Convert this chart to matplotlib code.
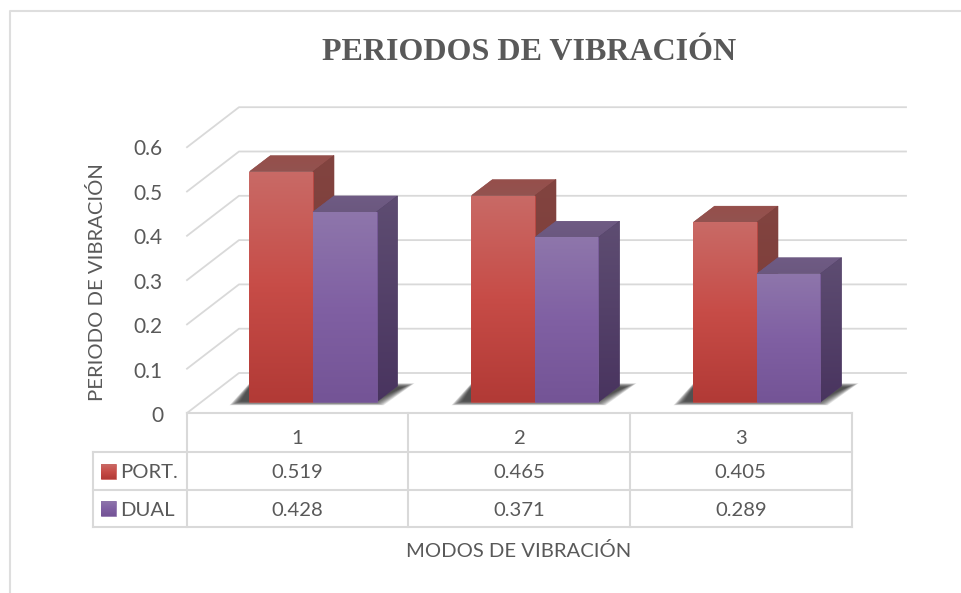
import matplotlib
matplotlib.use("Agg")
import matplotlib.pyplot as plt
import numpy as np
from matplotlib.colors import LinearSegmentedColormap
from matplotlib.patches import Polygon

categories = ["1", "2", "3"]
port = [0.519, 0.465, 0.405]
dual = [0.428, 0.371, 0.289]
yticks = [0, 0.1, 0.2, 0.3, 0.4, 0.5, 0.6]
ytick_labels = ["0", "0.1", "0.2", "0.3", "0.4", "0.5", "0.6"]
series_names = ["PORT.", "DUAL"]

W, H = 961, 593
CAT_PX = 222.0
VAL_PX = 444.0
GREY = "#595959"
LINE = "#d9d9d9"
FS = 14.6

red_front = LinearSegmentedColormap.from_list("rf", ["#c96a66", "#c74c47", "#b23a36"])
red_side = LinearSegmentedColormap.from_list("rs", ["#824440", "#7b3835"])
red_top = LinearSegmentedColormap.from_list("rt", ["#964f4b", "#925350"])
pur_front = LinearSegmentedColormap.from_list("pf", ["#8e76ab", "#8060a3", "#745496"])
pur_side = LinearSegmentedColormap.from_list("ps", ["#5e4d72", "#49345f"])
pur_top = LinearSegmentedColormap.from_list("pt", ["#6f5b84", "#6b587f"])


# pixel positions of the picture to data units
def px(x):
    return 1 + (x - 313) / CAT_PX


def py(y):
    return (402 - y) / VAL_PX


fig = plt.figure(figsize=(W / 100, H / 100), dpi=100)
ax = fig.add_axes([0, 0, 1, 1])
ax.axis("off")

plt.rcParams["font.family"] = ["Lato", "DejaVu Sans"]

# outer frame of the chart, open to the right and below
ax.plot([px(10), px(10), px(961)], [py(593), py(11), py(11)], color="#dedede", lw=1.5)

# back wall and floor grid
for v in yticks:
    ax.plot([px(187), px(239), px(906)],
            [py(413) + v * 44.3 / 44.4, py(373) + v * 44.3 / 44.4, py(373) + v * 44.3 / 44.4],
            color=LINE, lw=1.3, zorder=1)


def gradient_poly(pts, cmap, zorder):
    pts = np.array(pts)
    # solid face under the image so the clipped edge leaves no pale seam
    patch = Polygon(pts, closed=True, facecolor=cmap(0.5), edgecolor=cmap(0.5), lw=0.4, zorder=zorder)
    ax.add_patch(patch)
    grad = np.linspace(0, 1, 128).reshape(-1, 1)
    im = ax.imshow(grad, cmap=cmap, aspect="auto", zorder=zorder, interpolation="bilinear",
                   extent=[pts[:, 0].min(), pts[:, 0].max(), pts[:, 1].min(), pts[:, 1].max()])
    im.set_clip_path(patch)


def box(x0, x1, v, front, side, top, z):
    dx = 21 / CAT_PX
    dy = 16 / VAL_PX
    gradient_poly([(x0, v), (x0 + dx, v + dy), (x1 + dx, v + dy), (x1, v)], top, z)
    gradient_poly([(x1, 0), (x1 + dx, dy), (x1 + dx, v + dy), (x1, v)], side, z + 0.1)
    gradient_poly([(x0, 0), (x1, 0), (x1, v), (x0, v)], front, z + 0.2)


bar_w = 63.5 / CAT_PX
for i in range(len(categories)):
    c = i + 1
    # soft shadow on the floor behind the pair of bars
    sx0 = c - bar_w
    sx1 = c + bar_w
    for grow in np.linspace(5, -6, 12):
        gx = grow / CAT_PX
        gy = grow * 0.35 / VAL_PX
        shadow = Polygon([(sx0 - 15 / CAT_PX - gx, -1.5 / VAL_PX - gy),
                          (sx1 + 2 / CAT_PX + gx, -1.5 / VAL_PX - gy),
                          (sx1 + 33 / CAT_PX + gx, 17 / VAL_PX + gy),
                          (sx0, 17 / VAL_PX + gy)],
                         closed=True, facecolor="#262626", edgecolor="none", alpha=0.12, zorder=2)
        ax.add_patch(shadow)
    box(c - bar_w, c, port[i], red_front, red_side, red_top, 3 + i)
    box(c, c + bar_w, dual[i], pur_front, pur_side, pur_top, 3.5 + i)

# y tick labels
for v, lab in zip(yticks, ytick_labels):
    ax.text(px(163), py(416.5) + v * 44.6 / 44.4, lab, ha="right", va="center", fontsize=15, color=GREY)

# data table below the plot
col_x = [187, 408.5, 630, 851.5]
row_y = [413, 451.5, 489.5, 527]
ax.plot([px(col_x[0]), px(col_x[-1])], [py(row_y[0]), py(row_y[0])], color=LINE, lw=1.5, zorder=6)
for y in row_y[1:]:
    ax.plot([px(93), px(col_x[-1])], [py(y), py(y)], color=LINE, lw=1.5, zorder=6)
for x in col_x:
    ax.plot([px(x), px(x)], [py(row_y[0]), py(row_y[-1])], color=LINE, lw=1.5, zorder=6)
ax.plot([px(93), px(93)], [py(row_y[1]), py(row_y[-1])], color=LINE, lw=1.5, zorder=6)

for i, cat in enumerate(categories):
    cx = px((col_x[i] + col_x[i + 1]) / 2)
    ax.text(cx, py(439), cat, ha="center", va="center", fontsize=FS, color=GREY)
    ax.text(cx, py(473), f"{port[i]:.3f}", ha="center", va="center", fontsize=FS, color=GREY)
    ax.text(cx, py(511), f"{dual[i]:.3f}", ha="center", va="center", fontsize=FS, color=GREY)

for name, y, cmap in zip(series_names, [471, 508.5], [red_front, pur_front]):
    gradient_poly([(px(101), py(y + 7.5)), (px(116), py(y + 7.5)), (px(116), py(y - 7.5)), (px(101), py(y - 7.5))],
                  cmap, 7)
    ax.text(px(120), py(y + 2), name, ha="left", va="center", fontsize=FS, color=GREY)

ax.text(px(97), py(282), "PERIODO DE VIBRACIÓN", rotation=90, ha="center", va="center", fontsize=FS, color=GREY)
ax.text(px(519), py(551), "MODOS DE VIBRACIÓN", ha="center", va="center", fontsize=FS, color=GREY)
ax.text(px(529.5), py(52), "PERIODOS DE VIBRACIÓN", ha="center", va="center", fontsize=23,
        fontweight="bold", family="Liberation Serif", color=GREY)

ax.set_xlim(px(0), px(W))
ax.set_ylim(py(H), py(0))

fig.savefig("out.png", dpi=100)
